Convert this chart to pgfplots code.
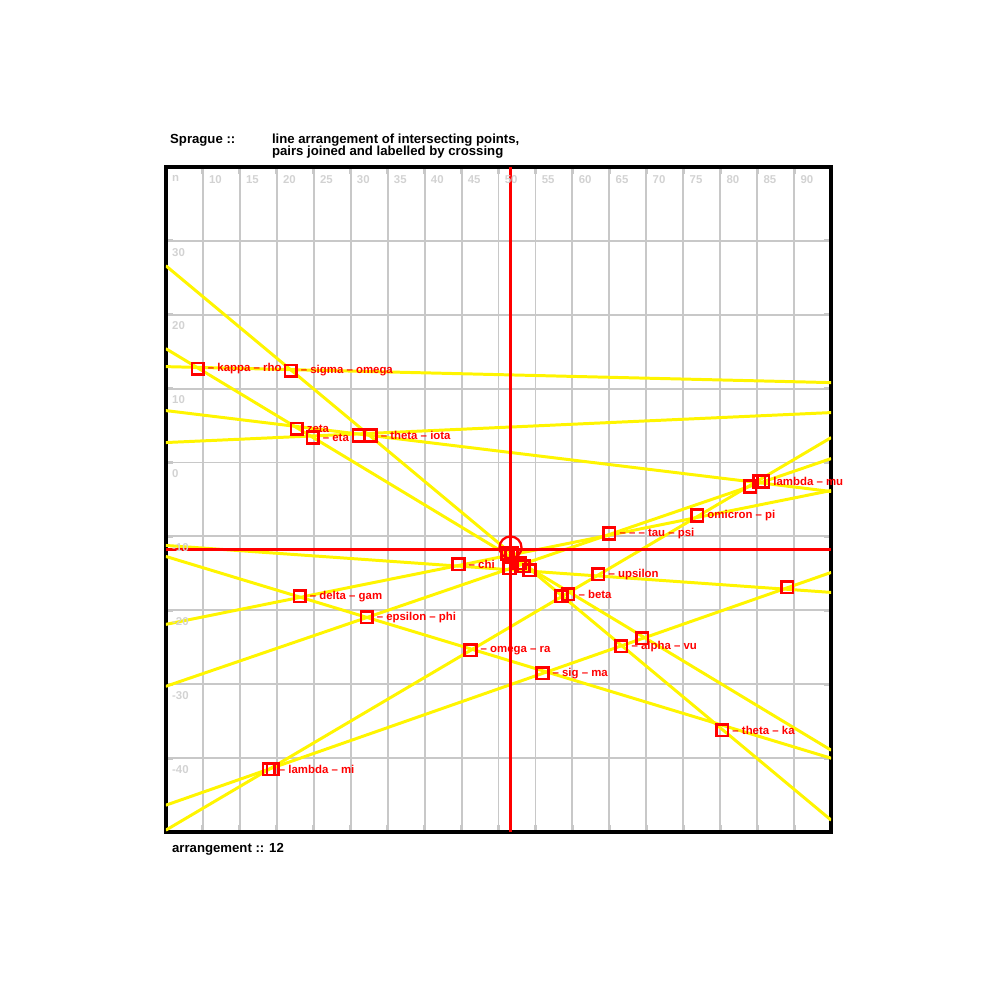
\documentclass[border=0pt]{standalone}
\usepackage{pgfplots}
\pgfplotsset{compat=1.18}
\usepackage{fontspec}
\setmainfont{Liberation Sans}
\usetikzlibrary{calc}
\definecolor{lineyellow}{RGB}{255,245,0}
\definecolor{gridgray}{RGB}{200,200,200}
\definecolor{ticktext}{RGB}{210,210,210}

% 1 px of the reference = 0.2 mm, axis box 666 x 666 px
\pgfplotstableread[col sep=comma]{
x,y,lab
32,464,– kappa – rho
125,462,– sigma – omega
131,404,zeta
147,395,– eta
193,397,{}
205,397,– theta – iota
585,346,{}
594,351,{}
598,351,lambda – mu
532,317,omicron – pi
444,299,– – – tau – psi
293,268,– chi
342,279,{}
346,279,{}
344,264,{}
354,269,{}
358,266,{}
364,262,{}
433,258,– upsilon
622,245,{}
134,236,– delta – gam
396,236,{}
403,238,– beta
201,215,– epsilon – phi
477,194,{}
456,186,– alpha – vu
305,182,– omega – ra
377,159,– sig – ma
557,102,– theta – ka
103,63,– lambda – mi
107,63,{}
}\pts

\begin{document}
\begin{tikzpicture}
\begin{axis}[
  name=ax, at={(0,0)}, anchor=south west,
  scale only axis, width=133.2mm, height=133.2mm,
  xmin=0, xmax=666, ymin=0, ymax=666,
  xtick={37,74,...,629}, ytick={74,148,...,592},
  xticklabels={}, yticklabels={},
  grid=major, grid style={color=gridgray, line width=1.1pt},
  axis line style={line width=2.4pt},
  tick align=inside, major tick length=1.5mm,
  tick style={color=gridgray, line width=1.6pt},
]
% yellow lines
\addplot[lineyellow, line width=1.7pt] coordinates {(0,466) (666,450)};
\addplot[lineyellow, line width=1.7pt] coordinates {(0,567) (666,12)};
\addplot[lineyellow, line width=1.7pt] coordinates {(0,484) (666,82)};
\addplot[lineyellow, line width=1.7pt] coordinates {(0,422) (666,341)};
\addplot[lineyellow, line width=1.7pt] coordinates {(0,390) (666,420)};
\addplot[lineyellow, line width=1.7pt] coordinates {(0,2) (666,395)};
\addplot[lineyellow, line width=1.7pt] coordinates {(0,146) (666,374)};
\addplot[lineyellow, line width=1.7pt] coordinates {(0,208) (666,342)};
\addplot[lineyellow, line width=1.7pt] coordinates {(0,27) (666,260)};
\addplot[lineyellow, line width=1.7pt] coordinates {(0,287) (666,240)};
\addplot[lineyellow, line width=1.7pt] coordinates {(0,276) (666,74)};
% red crosshair
\addplot[red, line width=1.7pt] coordinates {(345,0) (345,666)};
\addplot[red, line width=1.7pt] coordinates {(0,283) (666,283)};
\addplot[only marks, mark=o, red, mark size=2.2mm, line width=1.3pt] coordinates {(345,285)};
% points and labels
\addplot[only marks, mark=square, red, mark size=1.15mm, line width=1.5pt,
  nodes near coords, point meta=explicit symbolic,
  every node near coord/.append style={anchor=west, xshift=0.6mm, red,
    font=\fontsize{6.5}{7}\selectfont\bfseries}]
  table[x=x, y=y, meta=lab] {\pts};
\end{axis}
% tick labels inside the frame
\foreach \lab [count=\i from 0] in {n,10,15,20,25,30,35,40,45,50,55,60,65,70,75,80,85,90}
  \node[anchor=north west, inner sep=0pt, text=ticktext, font=\fontsize{6.5}{7}\selectfont\bfseries]
    at ($(ax.north west)+({7.4mm*\i+1.2mm},-1.6mm)$) {\lab};
\foreach \lab [count=\k from 1] in {-40,-30,-20,-10,0,10,20,30}
  \node[anchor=north west, inner sep=0pt, text=ticktext, font=\fontsize{6.5}{7}\selectfont\bfseries]
    at ($(ax.south west)+(1.2mm,{14.8mm*\k-1.4mm})$) {\lab};
% title and footer
\node[anchor=base west, inner sep=0pt, font=\fontsize{7.5}{8.5}\selectfont\bfseries]
  at ($(ax.north west)+(0.8mm,4.6mm)$) {Sprague ::};
\node[anchor=base west, inner sep=0pt, font=\fontsize{7.5}{8.5}\selectfont\bfseries]
  at ($(ax.north west)+(21.2mm,4.6mm)$) {line arrangement of intersecting points,};
\node[anchor=base west, inner sep=0pt, font=\fontsize{7.5}{8.5}\selectfont\bfseries]
  at ($(ax.north west)+(21.2mm,2.2mm)$) {pairs joined and labelled by crossing};
\node[anchor=north west, inner sep=0pt, font=\fontsize{7.5}{8.5}\selectfont\bfseries]
  at ($(ax.south west)+(1.2mm,-2.2mm)$) {arrangement :: 12};
\pgfresetboundingbox
\path[use as bounding box] ($(ax.south west)+(-33.2mm,-33.6mm)$) rectangle ($(ax.north east)+(33.6mm,33.4mm)$);
\end{tikzpicture}
\end{document}
